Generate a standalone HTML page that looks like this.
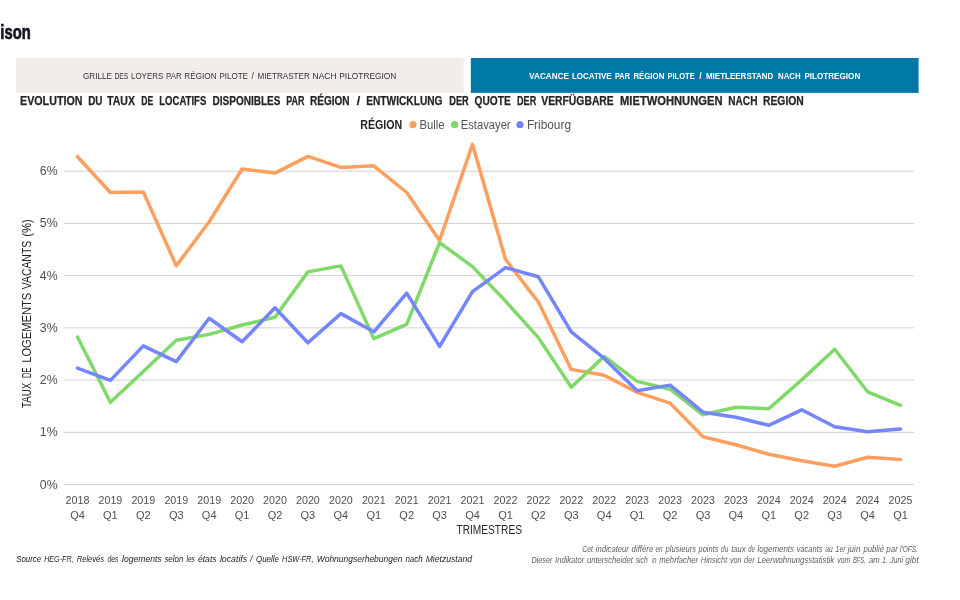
<!DOCTYPE html>
<html lang="fr"><head><meta charset="utf-8"><title>Comparaison</title>
<style>
html,body{margin:0;padding:0;background:#fff;}
body{width:960px;height:600px;overflow:hidden;font-family:"Liberation Sans",sans-serif;}
svg{display:block;}
text{font-family:"Liberation Sans",sans-serif;}
.tick{font-size:13px;fill:#524f4d;}
.xl{font-size:11px;fill:#524f4d;}
.ax{font-size:12px;fill:#252423;}
.ttl{font-size:12.5px;font-weight:bold;fill:#252423;stroke:#252423;stroke-width:0.25px;}
.lg{font-size:12px;fill:#555351;}
.fn{font-size:9px;font-style:italic;}
</style></head><body>
<svg width="960" height="600" viewBox="0 0 960 600">
<rect width="960" height="600" fill="#ffffff"/>

<text x="0.3" y="39.2" font-size="20.3" font-weight="bold" fill="#14141f" stroke="#14141f" stroke-width="0.7" textLength="30.4" lengthAdjust="spacingAndGlyphs">ison</text>
<rect x="16" y="58" width="447.6" height="34.9" fill="#f1edea"/>
<rect x="470.8" y="58" width="447.8" height="34.9" fill="#0078a6"/>
<text x="82.90" y="79" font-size="8.5" fill="#333333" textLength="29.20" lengthAdjust="spacingAndGlyphs">GRILLE</text>
<text x="114.50" y="79" font-size="8.5" fill="#333333" textLength="13.80" lengthAdjust="spacingAndGlyphs">DES</text>
<text x="131.00" y="79" font-size="8.5" fill="#333333" textLength="32.30" lengthAdjust="spacingAndGlyphs">LOYERS</text>
<text x="166.10" y="79" font-size="8.5" fill="#333333" textLength="15.50" lengthAdjust="spacingAndGlyphs">PAR</text>
<text x="184.30" y="79" font-size="8.5" fill="#333333" textLength="32.30" lengthAdjust="spacingAndGlyphs">RÉGION</text>
<text x="219.40" y="79" font-size="8.5" fill="#333333" textLength="28.50" lengthAdjust="spacingAndGlyphs">PILOTE</text>
<text x="252.75" y="79" font-size="8.5" fill="#333333" text-anchor="middle">/</text>
<text x="257.50" y="79" font-size="8.5" fill="#333333" textLength="52.30" lengthAdjust="spacingAndGlyphs">MIETRASTER</text>
<text x="312.50" y="79" font-size="8.5" fill="#333333" textLength="24.10" lengthAdjust="spacingAndGlyphs">NACH</text>
<text x="339.30" y="79" font-size="8.5" fill="#333333" textLength="57.10" lengthAdjust="spacingAndGlyphs">PILOTREGION</text>
<text x="529.10" y="79" font-size="8.5" font-weight="bold" fill="#ffffff" textLength="40.00" lengthAdjust="spacingAndGlyphs">VACANCE</text>
<text x="571.90" y="79" font-size="8.5" font-weight="bold" fill="#ffffff" textLength="39.70" lengthAdjust="spacingAndGlyphs">LOCATIVE</text>
<text x="615.00" y="79" font-size="8.5" font-weight="bold" fill="#ffffff" textLength="15.00" lengthAdjust="spacingAndGlyphs">PAR</text>
<text x="633.40" y="79" font-size="8.5" font-weight="bold" fill="#ffffff" textLength="30.90" lengthAdjust="spacingAndGlyphs">RÉGION</text>
<text x="667.50" y="79" font-size="8.5" font-weight="bold" fill="#ffffff" textLength="27.20" lengthAdjust="spacingAndGlyphs">PILOTE</text>
<text x="700.40" y="79" font-size="8.5" font-weight="bold" fill="#ffffff" text-anchor="middle">/</text>
<text x="705.90" y="79" font-size="8.5" font-weight="bold" fill="#ffffff" textLength="67.50" lengthAdjust="spacingAndGlyphs">MIETLEERSTAND</text>
<text x="778.10" y="79" font-size="8.5" font-weight="bold" fill="#ffffff" textLength="22.50" lengthAdjust="spacingAndGlyphs">NACH</text>
<text x="804.40" y="79" font-size="8.5" font-weight="bold" fill="#ffffff" textLength="55.85" lengthAdjust="spacingAndGlyphs">PILOTREGION</text>
<text x="20.00" y="104.8" class="ttl" textLength="62.50" lengthAdjust="spacingAndGlyphs">EVOLUTION</text>
<text x="88.25" y="104.8" class="ttl" textLength="14.25" lengthAdjust="spacingAndGlyphs">DU</text>
<text x="107.00" y="104.8" class="ttl" textLength="28.00" lengthAdjust="spacingAndGlyphs">TAUX</text>
<text x="141.25" y="104.8" class="ttl" textLength="12.00" lengthAdjust="spacingAndGlyphs">DE</text>
<text x="159.25" y="104.8" class="ttl" textLength="47.00" lengthAdjust="spacingAndGlyphs">LOCATIFS</text>
<text x="212.50" y="104.8" class="ttl" textLength="68.00" lengthAdjust="spacingAndGlyphs">DISPONIBLES</text>
<text x="286.25" y="104.8" class="ttl" textLength="18.25" lengthAdjust="spacingAndGlyphs">PAR</text>
<text x="310.00" y="104.8" class="ttl" textLength="39.50" lengthAdjust="spacingAndGlyphs">RÉGION</text>
<text x="358.50" y="104.8" class="ttl" text-anchor="middle">/</text>
<text x="366.25" y="104.8" class="ttl" textLength="76.25" lengthAdjust="spacingAndGlyphs">ENTWICKLUNG</text>
<text x="449.25" y="104.8" class="ttl" textLength="19.50" lengthAdjust="spacingAndGlyphs">DER</text>
<text x="474.50" y="104.8" class="ttl" textLength="36.25" lengthAdjust="spacingAndGlyphs">QUOTE</text>
<text x="517.00" y="104.8" class="ttl" textLength="19.25" lengthAdjust="spacingAndGlyphs">DER</text>
<text x="541.25" y="104.8" class="ttl" textLength="72.50" lengthAdjust="spacingAndGlyphs">VERFÜGBARE</text>
<text x="620.00" y="104.8" class="ttl" textLength="102.50" lengthAdjust="spacingAndGlyphs">MIETWOHNUNGEN</text>
<text x="728.25" y="104.8" class="ttl" textLength="29.25" lengthAdjust="spacingAndGlyphs">NACH</text>
<text x="763.00" y="104.8" class="ttl" textLength="40.75" lengthAdjust="spacingAndGlyphs">REGION</text>
<text x="360.3" y="128.8" font-size="12" font-weight="bold" fill="#252423" textLength="42" lengthAdjust="spacingAndGlyphs">RÉGION</text>
<circle cx="413" cy="124.7" r="3.6" fill="#ff9f5f"/>
<text class="lg" x="419.4" y="128.8" textLength="25.1" lengthAdjust="spacingAndGlyphs">Bulle</text>
<circle cx="454.6" cy="124.7" r="3.6" fill="#7fd968"/>
<text class="lg" x="460.8" y="128.8" textLength="49.8" lengthAdjust="spacingAndGlyphs">Estavayer</text>
<circle cx="520" cy="124.7" r="3.6" fill="#7486ff"/>
<text class="lg" x="526.9" y="128.8" textLength="44.1" lengthAdjust="spacingAndGlyphs">Fribourg</text>
<rect x="64" y="484.05" width="850" height="1" fill="#d2d0ce"/>
<text class="tick" x="57.6" y="488.55" text-anchor="end" textLength="17.8" lengthAdjust="spacingAndGlyphs">0%</text>
<rect x="64" y="431.82" width="850" height="1" fill="#d2d0ce"/>
<text class="tick" x="57.6" y="436.32" text-anchor="end" textLength="17.8" lengthAdjust="spacingAndGlyphs">1%</text>
<rect x="64" y="379.59" width="850" height="1" fill="#d2d0ce"/>
<text class="tick" x="57.6" y="384.09" text-anchor="end" textLength="17.8" lengthAdjust="spacingAndGlyphs">2%</text>
<rect x="64" y="327.36" width="850" height="1" fill="#d2d0ce"/>
<text class="tick" x="57.6" y="331.86" text-anchor="end" textLength="17.8" lengthAdjust="spacingAndGlyphs">3%</text>
<rect x="64" y="275.13" width="850" height="1" fill="#d2d0ce"/>
<text class="tick" x="57.6" y="279.63" text-anchor="end" textLength="17.8" lengthAdjust="spacingAndGlyphs">4%</text>
<rect x="64" y="222.90" width="850" height="1" fill="#d2d0ce"/>
<text class="tick" x="57.6" y="227.40" text-anchor="end" textLength="17.8" lengthAdjust="spacingAndGlyphs">5%</text>
<rect x="64" y="170.67" width="850" height="1" fill="#d2d0ce"/>
<text class="tick" x="57.6" y="175.17" text-anchor="end" textLength="17.8" lengthAdjust="spacingAndGlyphs">6%</text>
<g transform="translate(31.2,407.9) rotate(-90)"><text x="0.00" y="0" class="ax" textLength="25.20" lengthAdjust="spacingAndGlyphs">TAUX</text>
<text x="29.90" y="0" class="ax" textLength="10.50" lengthAdjust="spacingAndGlyphs">DE</text>
<text x="45.10" y="0" class="ax" textLength="70.10" lengthAdjust="spacingAndGlyphs">LOGEMENTS</text>
<text x="118.70" y="0" class="ax" textLength="48.40" lengthAdjust="spacingAndGlyphs">VACANTS</text>
<text x="171.20" y="0" class="ax" textLength="17.50" lengthAdjust="spacingAndGlyphs">(%)</text></g>
<polyline points="77.5,156.7 110.4,192.5 143.3,191.9 176.3,265.8 209.2,221.7 242.1,169.0 275.0,173.1 307.9,156.4 340.9,167.4 373.8,165.8 406.7,192.5 439.6,240.5 472.5,144.4 505.5,259.3 538.4,302.1 571.3,369.4 604.2,375.2 637.1,392.4 670.1,403.1 703.0,436.7 735.9,444.7 768.8,454.2 801.7,460.8 834.7,466.2 867.6,457.3 900.5,459.5" fill="none" stroke="#ff9f5f" stroke-width="3.5" stroke-linejoin="round" stroke-linecap="round"/>
<polyline points="77.5,337.0 110.4,402.3 143.3,371.5 176.3,340.2 209.2,334.4 242.1,325.0 275.0,317.2 307.9,271.9 340.9,265.9 373.8,338.6 406.7,324.3 439.6,242.6 472.5,266.6 505.5,301.0 538.4,337.6 571.3,387.2 604.2,356.4 637.1,381.4 670.1,389.2 703.0,414.8 735.9,407.3 768.8,408.8 801.7,379.9 834.7,349.3 867.6,391.8 900.5,405.3" fill="none" stroke="#7fd968" stroke-width="3.5" stroke-linejoin="round" stroke-linecap="round"/>
<polyline points="77.5,368.1 110.4,380.4 143.3,345.9 176.3,361.6 209.2,318.3 242.1,341.7 275.0,307.8 307.9,342.8 340.9,313.6 373.8,331.8 406.7,293.2 439.6,346.4 472.5,291.6 505.5,267.6 538.4,276.8 571.3,331.8 604.2,358.4 637.1,390.8 670.1,385.1 703.0,412.2 735.9,417.2 768.8,425.3 801.7,409.8 834.7,426.8 867.6,431.8 900.5,429.0" fill="none" stroke="#7486ff" stroke-width="3.5" stroke-linejoin="round" stroke-linecap="round"/>
<text class="xl" x="77.5" y="504.2" text-anchor="middle" textLength="23.8" lengthAdjust="spacingAndGlyphs">2018</text>
<text class="xl" x="77.5" y="519.0" text-anchor="middle">Q4</text>
<text class="xl" x="110.4" y="504.2" text-anchor="middle" textLength="23.8" lengthAdjust="spacingAndGlyphs">2019</text>
<text class="xl" x="110.4" y="519.0" text-anchor="middle">Q1</text>
<text class="xl" x="143.3" y="504.2" text-anchor="middle" textLength="23.8" lengthAdjust="spacingAndGlyphs">2019</text>
<text class="xl" x="143.3" y="519.0" text-anchor="middle">Q2</text>
<text class="xl" x="176.3" y="504.2" text-anchor="middle" textLength="23.8" lengthAdjust="spacingAndGlyphs">2019</text>
<text class="xl" x="176.3" y="519.0" text-anchor="middle">Q3</text>
<text class="xl" x="209.2" y="504.2" text-anchor="middle" textLength="23.8" lengthAdjust="spacingAndGlyphs">2019</text>
<text class="xl" x="209.2" y="519.0" text-anchor="middle">Q4</text>
<text class="xl" x="242.1" y="504.2" text-anchor="middle" textLength="23.8" lengthAdjust="spacingAndGlyphs">2020</text>
<text class="xl" x="242.1" y="519.0" text-anchor="middle">Q1</text>
<text class="xl" x="275.0" y="504.2" text-anchor="middle" textLength="23.8" lengthAdjust="spacingAndGlyphs">2020</text>
<text class="xl" x="275.0" y="519.0" text-anchor="middle">Q2</text>
<text class="xl" x="307.9" y="504.2" text-anchor="middle" textLength="23.8" lengthAdjust="spacingAndGlyphs">2020</text>
<text class="xl" x="307.9" y="519.0" text-anchor="middle">Q3</text>
<text class="xl" x="340.9" y="504.2" text-anchor="middle" textLength="23.8" lengthAdjust="spacingAndGlyphs">2020</text>
<text class="xl" x="340.9" y="519.0" text-anchor="middle">Q4</text>
<text class="xl" x="373.8" y="504.2" text-anchor="middle" textLength="23.8" lengthAdjust="spacingAndGlyphs">2021</text>
<text class="xl" x="373.8" y="519.0" text-anchor="middle">Q1</text>
<text class="xl" x="406.7" y="504.2" text-anchor="middle" textLength="23.8" lengthAdjust="spacingAndGlyphs">2021</text>
<text class="xl" x="406.7" y="519.0" text-anchor="middle">Q2</text>
<text class="xl" x="439.6" y="504.2" text-anchor="middle" textLength="23.8" lengthAdjust="spacingAndGlyphs">2021</text>
<text class="xl" x="439.6" y="519.0" text-anchor="middle">Q3</text>
<text class="xl" x="472.5" y="504.2" text-anchor="middle" textLength="23.8" lengthAdjust="spacingAndGlyphs">2021</text>
<text class="xl" x="472.5" y="519.0" text-anchor="middle">Q4</text>
<text class="xl" x="505.5" y="504.2" text-anchor="middle" textLength="23.8" lengthAdjust="spacingAndGlyphs">2022</text>
<text class="xl" x="505.5" y="519.0" text-anchor="middle">Q1</text>
<text class="xl" x="538.4" y="504.2" text-anchor="middle" textLength="23.8" lengthAdjust="spacingAndGlyphs">2022</text>
<text class="xl" x="538.4" y="519.0" text-anchor="middle">Q2</text>
<text class="xl" x="571.3" y="504.2" text-anchor="middle" textLength="23.8" lengthAdjust="spacingAndGlyphs">2022</text>
<text class="xl" x="571.3" y="519.0" text-anchor="middle">Q3</text>
<text class="xl" x="604.2" y="504.2" text-anchor="middle" textLength="23.8" lengthAdjust="spacingAndGlyphs">2022</text>
<text class="xl" x="604.2" y="519.0" text-anchor="middle">Q4</text>
<text class="xl" x="637.1" y="504.2" text-anchor="middle" textLength="23.8" lengthAdjust="spacingAndGlyphs">2023</text>
<text class="xl" x="637.1" y="519.0" text-anchor="middle">Q1</text>
<text class="xl" x="670.1" y="504.2" text-anchor="middle" textLength="23.8" lengthAdjust="spacingAndGlyphs">2023</text>
<text class="xl" x="670.1" y="519.0" text-anchor="middle">Q2</text>
<text class="xl" x="703.0" y="504.2" text-anchor="middle" textLength="23.8" lengthAdjust="spacingAndGlyphs">2023</text>
<text class="xl" x="703.0" y="519.0" text-anchor="middle">Q3</text>
<text class="xl" x="735.9" y="504.2" text-anchor="middle" textLength="23.8" lengthAdjust="spacingAndGlyphs">2023</text>
<text class="xl" x="735.9" y="519.0" text-anchor="middle">Q4</text>
<text class="xl" x="768.8" y="504.2" text-anchor="middle" textLength="23.8" lengthAdjust="spacingAndGlyphs">2024</text>
<text class="xl" x="768.8" y="519.0" text-anchor="middle">Q1</text>
<text class="xl" x="801.7" y="504.2" text-anchor="middle" textLength="23.8" lengthAdjust="spacingAndGlyphs">2024</text>
<text class="xl" x="801.7" y="519.0" text-anchor="middle">Q2</text>
<text class="xl" x="834.7" y="504.2" text-anchor="middle" textLength="23.8" lengthAdjust="spacingAndGlyphs">2024</text>
<text class="xl" x="834.7" y="519.0" text-anchor="middle">Q3</text>
<text class="xl" x="867.6" y="504.2" text-anchor="middle" textLength="23.8" lengthAdjust="spacingAndGlyphs">2024</text>
<text class="xl" x="867.6" y="519.0" text-anchor="middle">Q4</text>
<text class="xl" x="900.5" y="504.2" text-anchor="middle" textLength="23.8" lengthAdjust="spacingAndGlyphs">2025</text>
<text class="xl" x="900.5" y="519.0" text-anchor="middle">Q1</text>
<text class="ax" x="489.2" y="533.8" text-anchor="middle" textLength="65.5" lengthAdjust="spacingAndGlyphs">TRIMESTRES</text>
<text x="16.30" y="562.2" class="fn" fill="#252423" textLength="24.80" lengthAdjust="spacingAndGlyphs">Source</text>
<text x="44.20" y="562.2" class="fn" fill="#252423" textLength="29.40" lengthAdjust="spacingAndGlyphs">HEG-FR,</text>
<text x="76.70" y="562.2" class="fn" fill="#252423" textLength="27.40" lengthAdjust="spacingAndGlyphs">Relevés</text>
<text x="107.50" y="562.2" class="fn" fill="#252423" textLength="10.80" lengthAdjust="spacingAndGlyphs">des</text>
<text x="122.00" y="562.2" class="fn" fill="#252423" textLength="39.70" lengthAdjust="spacingAndGlyphs">logements</text>
<text x="164.40" y="562.2" class="fn" fill="#252423" textLength="19.00" lengthAdjust="spacingAndGlyphs">selon</text>
<text x="186.50" y="562.2" class="fn" fill="#252423" textLength="8.40" lengthAdjust="spacingAndGlyphs">les</text>
<text x="197.90" y="562.2" class="fn" fill="#252423" textLength="18.70" lengthAdjust="spacingAndGlyphs">états</text>
<text x="219.90" y="562.2" class="fn" fill="#252423" textLength="27.30" lengthAdjust="spacingAndGlyphs">locatifs</text>
<text x="251.25" y="562.2" class="fn" fill="#252423" text-anchor="middle">/</text>
<text x="256.00" y="562.2" class="fn" fill="#252423" textLength="23.00" lengthAdjust="spacingAndGlyphs">Quelle</text>
<text x="282.10" y="562.2" class="fn" fill="#252423" textLength="31.40" lengthAdjust="spacingAndGlyphs">HSW-FR,</text>
<text x="316.70" y="562.2" class="fn" fill="#252423" textLength="85.70" lengthAdjust="spacingAndGlyphs">Wohnungserhebungen</text>
<text x="405.40" y="562.2" class="fn" fill="#252423" textLength="17.30" lengthAdjust="spacingAndGlyphs">nach</text>
<text x="425.70" y="562.2" class="fn" fill="#252423" textLength="46.40" lengthAdjust="spacingAndGlyphs">Mietzustand</text>
<text x="582.20" y="551.7" class="fn" fill="#605e5c" textLength="10.80" lengthAdjust="spacingAndGlyphs">Cet</text>
<text x="595.70" y="551.7" class="fn" fill="#605e5c" textLength="33.20" lengthAdjust="spacingAndGlyphs">indicateur</text>
<text x="631.60" y="551.7" class="fn" fill="#605e5c" textLength="21.70" lengthAdjust="spacingAndGlyphs">diffère</text>
<text x="655.40" y="551.7" class="fn" fill="#605e5c" textLength="7.10" lengthAdjust="spacingAndGlyphs">en</text>
<text x="665.60" y="551.7" class="fn" fill="#605e5c" textLength="30.40" lengthAdjust="spacingAndGlyphs">plusieurs</text>
<text x="698.50" y="551.7" class="fn" fill="#605e5c" textLength="19.90" lengthAdjust="spacingAndGlyphs">points</text>
<text x="721.10" y="551.7" class="fn" fill="#605e5c" textLength="7.20" lengthAdjust="spacingAndGlyphs">du</text>
<text x="731.20" y="551.7" class="fn" fill="#605e5c" textLength="14.30" lengthAdjust="spacingAndGlyphs">taux</text>
<text x="748.20" y="551.7" class="fn" fill="#605e5c" textLength="6.60" lengthAdjust="spacingAndGlyphs">de</text>
<text x="757.40" y="551.7" class="fn" fill="#605e5c" textLength="36.60" lengthAdjust="spacingAndGlyphs">logements</text>
<text x="796.70" y="551.7" class="fn" fill="#605e5c" textLength="25.70" lengthAdjust="spacingAndGlyphs">vacants</text>
<text x="825.20" y="551.7" class="fn" fill="#605e5c" textLength="7.40" lengthAdjust="spacingAndGlyphs">au</text>
<text x="835.60" y="551.7" class="fn" fill="#605e5c" textLength="9.90" lengthAdjust="spacingAndGlyphs">1er</text>
<text x="847.80" y="551.7" class="fn" fill="#605e5c" textLength="12.60" lengthAdjust="spacingAndGlyphs">juin</text>
<text x="863.40" y="551.7" class="fn" fill="#605e5c" textLength="20.60" lengthAdjust="spacingAndGlyphs">publié</text>
<text x="886.25" y="551.7" class="fn" fill="#605e5c" textLength="11.55" lengthAdjust="spacingAndGlyphs">par</text>
<text x="900.00" y="551.7" class="fn" fill="#605e5c" textLength="17.80" lengthAdjust="spacingAndGlyphs">l'OFS.</text>
<text x="531.40" y="562.8" class="fn" fill="#605e5c" textLength="21.00" lengthAdjust="spacingAndGlyphs">Dieser</text>
<text x="555.10" y="562.8" class="fn" fill="#605e5c" textLength="29.10" lengthAdjust="spacingAndGlyphs">Indikator</text>
<text x="586.90" y="562.8" class="fn" fill="#605e5c" textLength="46.00" lengthAdjust="spacingAndGlyphs">unterscheidet</text>
<text x="635.70" y="562.8" class="fn" fill="#605e5c" textLength="12.10" lengthAdjust="spacingAndGlyphs">sich</text>
<text x="652.00" y="562.8" class="fn" fill="#605e5c" textLength="4.60" lengthAdjust="spacingAndGlyphs">in</text>
<text x="659.20" y="562.8" class="fn" fill="#605e5c" textLength="38.90" lengthAdjust="spacingAndGlyphs">mehrfacher</text>
<text x="700.80" y="562.8" class="fn" fill="#605e5c" textLength="26.40" lengthAdjust="spacingAndGlyphs">Hinsicht</text>
<text x="729.90" y="562.8" class="fn" fill="#605e5c" textLength="11.50" lengthAdjust="spacingAndGlyphs">von</text>
<text x="744.10" y="562.8" class="fn" fill="#605e5c" textLength="10.50" lengthAdjust="spacingAndGlyphs">der</text>
<text x="757.40" y="562.8" class="fn" fill="#605e5c" textLength="76.80" lengthAdjust="spacingAndGlyphs">Leerwohnungsstatistik</text>
<text x="837.30" y="562.8" class="fn" fill="#605e5c" textLength="12.90" lengthAdjust="spacingAndGlyphs">vom</text>
<text x="852.90" y="562.8" class="fn" fill="#605e5c" textLength="12.90" lengthAdjust="spacingAndGlyphs">BFS,</text>
<text x="868.90" y="562.8" class="fn" fill="#605e5c" textLength="10.80" lengthAdjust="spacingAndGlyphs">am</text>
<text x="882.20" y="562.8" class="fn" fill="#605e5c" textLength="5.30" lengthAdjust="spacingAndGlyphs">1.</text>
<text x="890.00" y="562.8" class="fn" fill="#605e5c" textLength="13.10" lengthAdjust="spacingAndGlyphs">Juni</text>
<text x="905.30" y="562.8" class="fn" fill="#605e5c" textLength="13.45" lengthAdjust="spacingAndGlyphs">gibt</text>
</svg></body></html>
